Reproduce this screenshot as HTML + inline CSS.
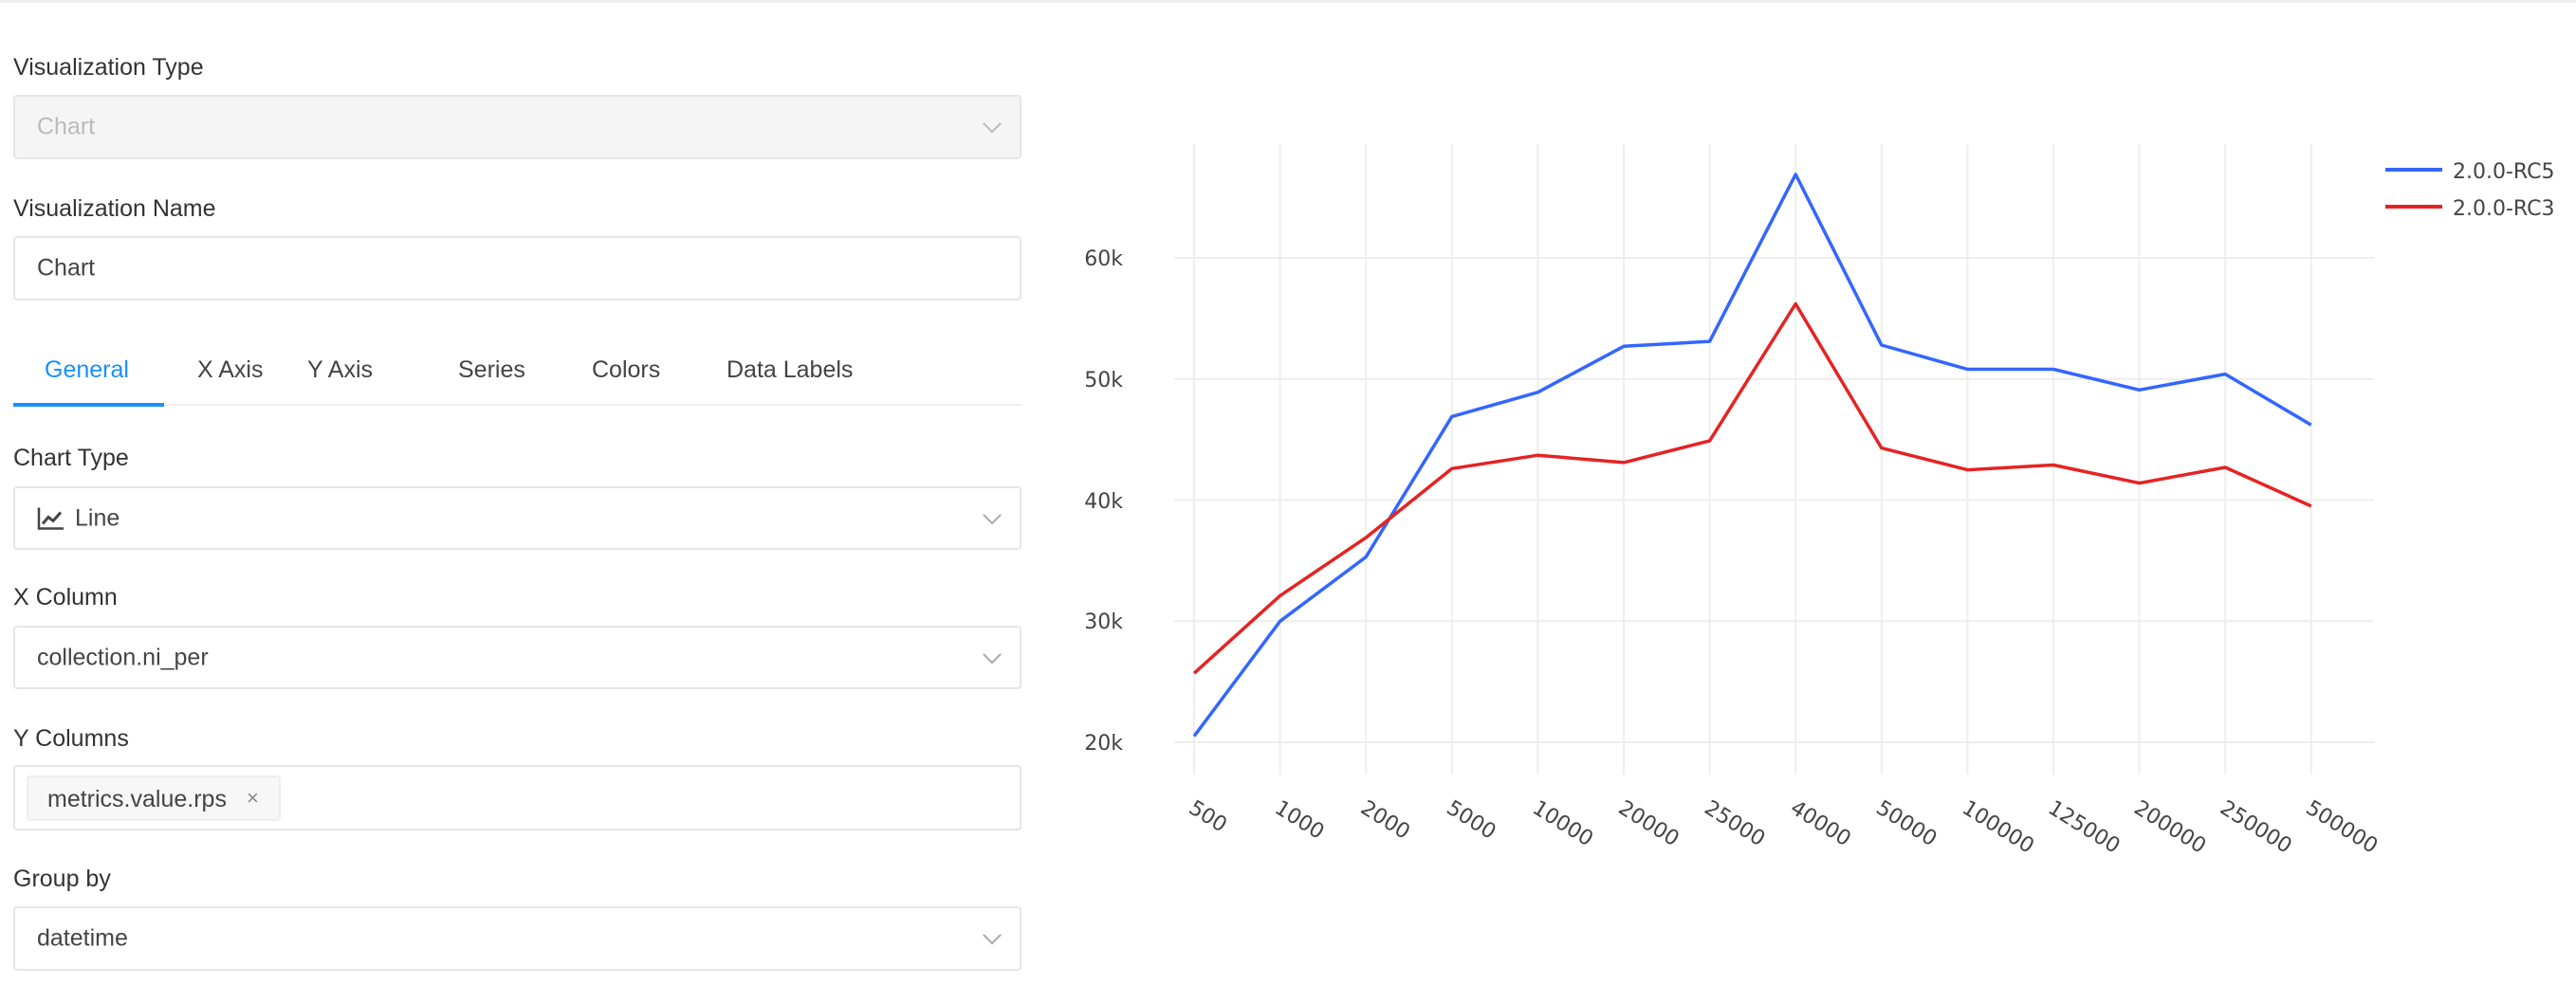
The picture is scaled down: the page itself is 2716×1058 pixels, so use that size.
<!DOCTYPE html>
<html><head><style>
body{margin:0;width:2716px;height:1058px;background:#fff;font-family:"Liberation Sans",sans-serif;position:relative;overflow:hidden;color:#333}
.top{position:absolute;left:0;top:0;width:2716px;height:3px;background:#eee}
.lab{position:absolute;left:14px;font-size:25px;color:#333;line-height:30px}
.box{position:absolute;left:14px;width:1063px;border:2px solid #e6e6e6;border-radius:4px;box-sizing:border-box;font-size:25px;color:#444}
.box span.t{position:absolute;left:23px;top:50%;transform:translateY(-50%)}
.chev{position:absolute;right:22px;top:50%;width:12px;height:12px;border-right:2px solid #aaa;border-bottom:2px solid #aaa;transform:translateY(-75%) rotate(45deg)}
.tab{position:absolute;top:376px;font-size:25px;color:#444}
</style></head><body>
<div class="top"></div>
<div class="lab" style="top:56px">Visualization Type</div>
<div class="box" style="top:100px;height:68px;background:#f5f5f5"><span class="t" style="color:#bbb">Chart</span><div class="chev" style="border-color:#bbb"></div></div>
<div class="lab" style="top:205px">Visualization Name</div>
<div class="box" style="top:249px;height:68px"><span class="t">Chart</span></div>
<div class="tab" style="left:47px;color:#1890ff">General</div>
<div class="tab" style="left:208px">X Axis</div>
<div class="tab" style="left:324px">Y Axis</div>
<div class="tab" style="left:483px">Series</div>
<div class="tab" style="left:624px">Colors</div>
<div class="tab" style="left:766px">Data Labels</div>
<div style="position:absolute;left:14px;top:426px;width:1063px;height:2px;background:#eee"></div>
<div style="position:absolute;left:14px;top:425px;width:159px;height:4px;background:#1890ff"></div>
<div class="lab" style="top:468px">Chart Type</div>
<div class="box" style="top:513px;height:67px"><span class="t" style="display:flex;align-items:center"><svg width="30" height="26" viewBox="0 0 30 26" style="margin-right:10px"><path d="M2 2V24H28" stroke="#444" stroke-width="2.5" fill="none"/><path d="M6 19L12 12L17 16L25 7" stroke="#444" stroke-width="3" fill="none"/></svg>Line</span><div class="chev"></div></div>
<div class="lab" style="top:615px">X Column</div>
<div class="box" style="top:660px;height:67px"><span class="t">collection.ni_per</span><div class="chev"></div></div>
<div class="lab" style="top:764px">Y Columns</div>
<div class="box" style="top:807px;height:69px"><div style="position:absolute;left:12px;top:9px;width:268px;height:48px;background:#f7f7f7;border:2px solid #eee;border-radius:4px;box-sizing:border-box"><span style="position:absolute;left:20px;top:9px;font-size:25px;color:#444">metrics.value.rps</span><span style="position:absolute;left:230px;top:9px;font-size:22px;color:#888">×</span></div></div>
<div class="lab" style="top:912px">Group by</div>
<div class="box" style="top:956px;height:68px"><span class="t">datetime</span><div class="chev"></div></div>

<svg style="position:absolute;left:0;top:0" width="2716" height="1058" font-family="DejaVu Sans, sans-serif">
<g stroke="#eee" stroke-width="2">
<line x1="1238" x2="2503" y1="783" y2="783"/><line x1="1238" x2="2503" y1="655.3" y2="655.3"/><line x1="1238" x2="2503" y1="527.5" y2="527.5"/><line x1="1238" x2="2503" y1="399.8" y2="399.8"/><line x1="1238" x2="2503" y1="272" y2="272"/>
<line x1="1259" x2="1259" y1="152" y2="817"/><line x1="1349.6" x2="1349.6" y1="152" y2="817"/><line x1="1440.2" x2="1440.2" y1="152" y2="817"/><line x1="1530.8" x2="1530.8" y1="152" y2="817"/><line x1="1621.4" x2="1621.4" y1="152" y2="817"/><line x1="1712" x2="1712" y1="152" y2="817"/><line x1="1802.6" x2="1802.6" y1="152" y2="817"/><line x1="1893.2" x2="1893.2" y1="152" y2="817"/><line x1="1983.8" x2="1983.8" y1="152" y2="817"/><line x1="2074.4" x2="2074.4" y1="152" y2="817"/><line x1="2165" x2="2165" y1="152" y2="817"/><line x1="2255.6" x2="2255.6" y1="152" y2="817"/><line x1="2346.2" x2="2346.2" y1="152" y2="817"/><line x1="2436.8" x2="2436.8" y1="152" y2="817"/>
</g>
<g font-size="22" fill="#444" text-anchor="end">
<text x="1184" y="791">20k</text><text x="1184" y="663">30k</text><text x="1184" y="536">40k</text><text x="1184" y="408">50k</text><text x="1184" y="280">60k</text>
</g>
<g font-size="22" fill="#444">
<text transform="translate(1252,856) rotate(32)">500</text>
<text transform="translate(1342.6,856) rotate(32)">1000</text>
<text transform="translate(1433.2,856) rotate(32)">2000</text>
<text transform="translate(1523.8,856) rotate(32)">5000</text>
<text transform="translate(1614.4,856) rotate(32)">10000</text>
<text transform="translate(1705,856) rotate(32)">20000</text>
<text transform="translate(1795.6,856) rotate(32)">25000</text>
<text transform="translate(1886.2,856) rotate(32)">40000</text>
<text transform="translate(1976.8,856) rotate(32)">50000</text>
<text transform="translate(2067.4,856) rotate(32)">100000</text>
<text transform="translate(2158,856) rotate(32)">125000</text>
<text transform="translate(2248.6,856) rotate(32)">200000</text>
<text transform="translate(2339.2,856) rotate(32)">250000</text>
<text transform="translate(2429.8,856) rotate(32)">500000</text>
</g>
<polyline fill="none" stroke="#3366ff" stroke-width="3.5" stroke-linejoin="round" points="1259,776.6 1349.6,655.3 1440.2,587.5 1530.8,439.4 1621.4,413.8 1712,365.3 1802.6,360.1 1893.2,183.9 1983.8,364 2074.4,389.5 2165,389.5 2255.6,411.3 2346.2,394.6 2436.8,448.3"/>
<polyline fill="none" stroke="#e52323" stroke-width="3.5" stroke-linejoin="round" points="1259,710.2 1349.6,628.4 1440.2,567.1 1530.8,494.3 1621.4,480.2 1712,487.9 1802.6,464.9 1893.2,320.5 1983.8,472.6 2074.4,495.6 2165,490.5 2255.6,509.6 2346.2,493 2436.8,533.9"/>
<line x1="2515" x2="2575" y1="179" y2="179" stroke="#3366ff" stroke-width="4"/>
<line x1="2515" x2="2575" y1="218" y2="218" stroke="#e52323" stroke-width="4"/>
<text x="2586" y="188" font-size="22" fill="#444">2.0.0-RC5</text>
<text x="2586" y="227" font-size="22" fill="#444">2.0.0-RC3</text>
</svg>
</body></html>
